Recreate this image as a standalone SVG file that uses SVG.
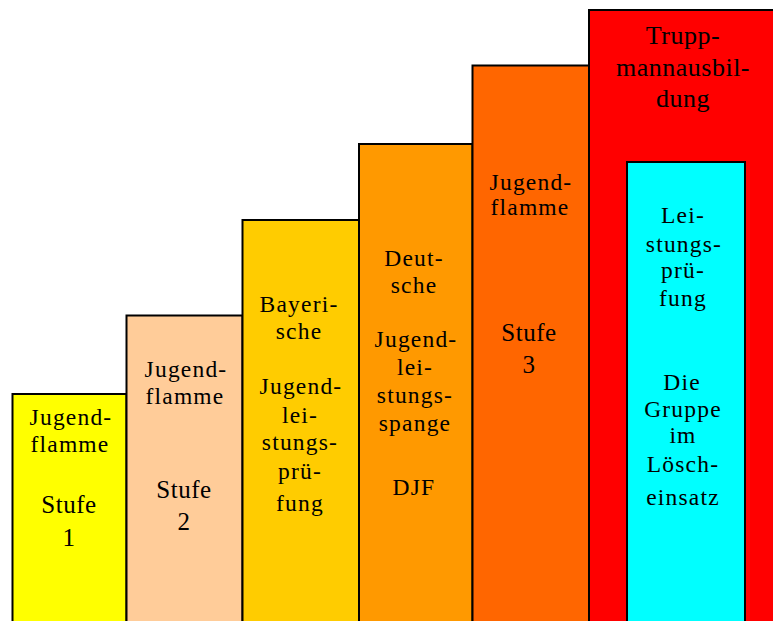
<svg xmlns="http://www.w3.org/2000/svg" width="773" height="621" viewBox="0 0 773 621">
<style>
rect{stroke:#000;stroke-width:2}
text{font-family:"Liberation Serif","Times New Roman",serif;font-size:23.5px;letter-spacing:1.2px;fill:#000;text-anchor:middle}
.big{font-size:25px;letter-spacing:0.5px}
.tr{font-size:26px;letter-spacing:0.5px}
</style>
<rect x="0" y="0" width="773" height="621" fill="#fff" style="stroke:none"/>
<g id="stufe1">
<rect x="12.5" y="394" width="114" height="240" fill="#FFFF00"/>
<text x="71" y="425">Jugend-</text>
<text x="70" y="452">flamme</text>
<text class="big" x="69" y="513">Stufe</text>
<text class="big" x="69" y="546">1</text>
</g>
<g id="stufe2">
<rect x="126.5" y="315.5" width="116" height="320" fill="#FFCC99"/>
<text x="186" y="377">Jugend-</text>
<text x="185" y="404">flamme</text>
<text class="big" x="184" y="498">Stufe</text>
<text class="big" x="184" y="530">2</text>
</g>
<g id="bayerische">
<rect x="242.5" y="220" width="116.5" height="420" fill="#FFCC00"/>
<text x="299" y="312">Bayeri-</text>
<text x="299" y="339">sche</text>
<text x="301" y="394">Jugend-</text>
<text x="300" y="423">lei-</text>
<text x="300" y="450">stungs-</text>
<text x="300" y="479">prü-</text>
<text x="300" y="511">fung</text>
</g>
<g id="deutsche">
<rect x="359" y="144" width="113.5" height="500" fill="#FF9900"/>
<text x="414" y="266">Deut-</text>
<text x="414" y="293">sche</text>
<text x="416" y="347">Jugend-</text>
<text x="415" y="375">lei-</text>
<text x="415" y="403">stungs-</text>
<text x="415" y="431">spange</text>
<text x="414" y="495">DJF</text>
</g>
<g id="stufe3">
<rect x="472.5" y="65.5" width="116.5" height="580" fill="#FF6600"/>
<text x="531" y="190">Jugend-</text>
<text x="530" y="215">flamme</text>
<text class="big" x="529" y="341">Stufe</text>
<text class="big" x="529" y="373">3</text>
</g>
<g id="truppmann">
<rect x="589" y="10" width="200" height="640" fill="#FF0000"/>
<text class="tr" x="683" y="44">Trupp-</text>
<text class="tr" x="683" y="76">mannausbil-</text>
<text class="tr" x="683" y="107">dung</text>
</g>
<g id="leistungspruefung">
<rect x="627" y="162" width="118" height="480" fill="#00FFFF"/>
<text x="683" y="223">Lei-</text>
<text x="684" y="252">stungs-</text>
<text x="683" y="278">prü-</text>
<text x="683" y="306">fung</text>
<text x="682" y="390">Die</text>
<text x="683" y="417">Gruppe</text>
<text x="683" y="443">im</text>
<text x="683" y="472">Lösch-</text>
<text x="683" y="505">einsatz</text>
</g>
<g id="connectors"/>
</svg>
